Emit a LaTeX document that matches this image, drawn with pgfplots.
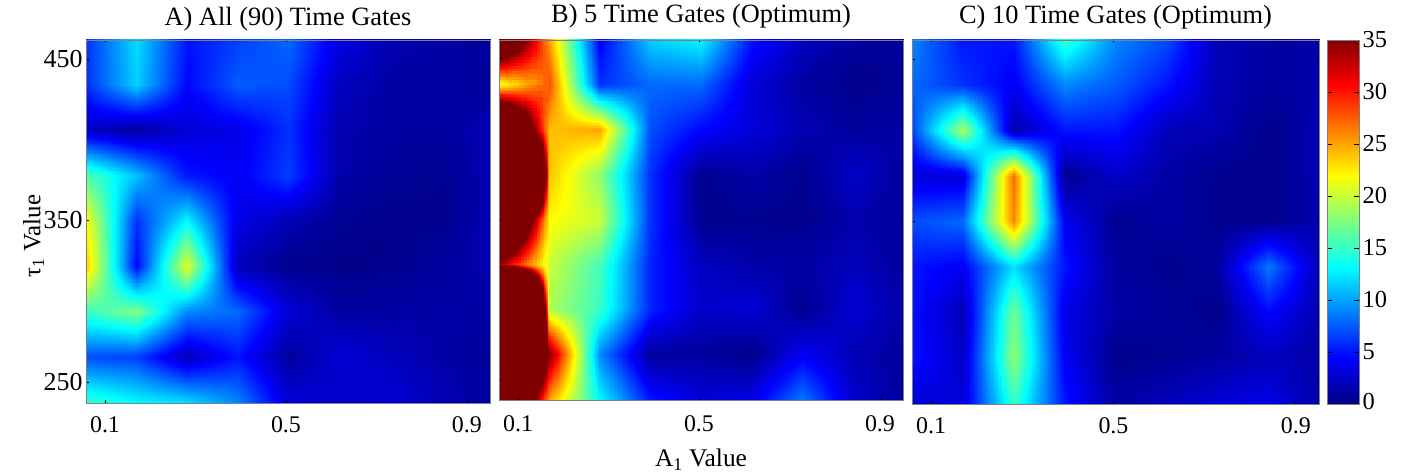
\documentclass[border=0pt]{standalone}
\usepackage{pgfplots}
\pgfplotsset{compat=1.18}
\usepgfplotslibrary{patchplots}
\usepackage{fontspec}
\setmainfont{Liberation Serif}
\pgfplotsset{
  colormap={jet35}{rgb255(0pt)=(0,0,128) rgb255(4.375pt)=(0,0,255) rgb255(13.125pt)=(0,255,255) rgb255(21.875pt)=(255,255,0) rgb255(30.625pt)=(255,0,0) rgb255(35pt)=(128,0,0)},
  colormap={jetx}{rgb255(0pt)=(0,0,128) rgb255(4.375pt)=(0,0,255) rgb255(13.125pt)=(0,255,255) rgb255(21.875pt)=(255,255,0) rgb255(30.625pt)=(255,0,0) rgb255(35pt)=(128,0,0) rgb255(250pt)=(128,0,0)},
  panel/.style={
    scale only axis, anchor=south west,
    xmin=0.058, xmax=0.951, ymin=236.9, ymax=461.7,
    xtick={0.1,0.5,0.9}, ytick={250,350,450},
    xticklabels={0.1,0.5,0.9},
    tick align=inside, major tick length=2.5bp,
    tick style={black, line width=0.6pt},
    axis line style={gray, line width=0.7pt},
    xticklabel style={font=\fontsize{24}{24}\selectfont, yshift=-10bp},
    yticklabel style={font=\fontsize{26}{26}\selectfont},
    /pgf/number format/assume math mode=true,
    title style={font=\fontsize{26.5}{28}\selectfont, inner sep=0pt},
    colormap name=jet35, point meta min=0, point meta max=35,
    axis on top,
  },
  hm/.style={surf, shader=interp, patch type=bilinear, mesh/cols=9, point meta=explicit},
}
\begin{document}
\begin{tikzpicture}[x=1bp,y=1bp]
\useasboundingbox (0,0) rectangle (1401,474);
% ---------- A
\begin{axis}[panel, at={(86bp,71bp)}, width=404bp, height=363bp,
  title={A) All (90) Time Gates}, title style={at={(0.5,1)},anchor=base,yshift=9bp},
  ylabel={τ\textsubscript{1} Value}, ylabel style={font=\fontsize{25}{25}\selectfont, at={(axis description cs:-0.1,0.46)}, yshift=-2bp}]
\addplot[hm] coordinates {
(0.058,236.9)[15] (0.170,236.9)[13] (0.281,236.9)[12] (0.393,236.9)[9] (0.505,236.9)[3] (0.616,236.9)[2.5] (0.728,236.9)[3] (0.840,236.9)[1.8] (0.951,236.9)[1]
(0.058,265.0)[7] (0.170,265.0)[6.5] (0.281,265.0)[2] (0.393,265.0)[5] (0.505,265.0)[1] (0.616,265.0)[3] (0.728,265.0)[2] (0.840,265.0)[1.3] (0.951,265.0)[0.8]
(0.058,293.1)[15] (0.170,293.1)[17.5] (0.281,293.1)[9] (0.393,293.1)[8] (0.505,293.1)[3] (0.616,293.1)[1.2] (0.728,293.1)[1.2] (0.840,293.1)[1.3] (0.951,293.1)[1.3]
(0.058,321.2)[24] (0.170,321.2)[4.5] (0.281,321.2)[21] (0.393,321.2)[2] (0.505,321.2)[0.5] (0.616,321.2)[0.3] (0.728,321.2)[0.4] (0.840,321.2)[1] (0.951,321.2)[1.8]
(0.058,349.3)[22] (0.170,349.3)[6] (0.281,349.3)[13] (0.393,349.3)[3.5] (0.505,349.3)[1.8] (0.616,349.3)[0.7] (0.728,349.3)[0.4] (0.840,349.3)[0.5] (0.951,349.3)[1.8]
(0.058,377.4)[16] (0.170,377.4)[11] (0.281,377.4)[5] (0.393,377.4)[4] (0.505,377.4)[6.5] (0.616,377.4)[1.5] (0.728,377.4)[0.8] (0.840,377.4)[0.6] (0.951,377.4)[1.8]
(0.058,405.5)[2.5] (0.170,405.5)[1] (0.281,405.5)[3] (0.393,405.5)[3.5] (0.505,405.5)[6] (0.616,405.5)[1.6] (0.728,405.5)[1.2] (0.840,405.5)[1.2] (0.951,405.5)[1.8]
(0.058,433.6)[6] (0.170,433.6)[11.5] (0.281,433.6)[4.5] (0.393,433.6)[7.5] (0.505,433.6)[7] (0.616,433.6)[2.2] (0.728,433.6)[1.2] (0.840,433.6)[1.2] (0.951,433.6)[0.8]
(0.058,461.7)[6] (0.170,461.7)[12] (0.281,461.7)[5] (0.393,461.7)[6.5] (0.505,461.7)[8] (0.616,461.7)[3.5] (0.728,461.7)[1.8] (0.840,461.7)[1.2] (0.951,461.7)[1]
};
\end{axis}
% ---------- B: the two leftmost columns exceed the scale, and are drawn on a wider meta range
\begin{axis}[panel, at={(499bp,74bp)}, width=404bp, height=360bp, yticklabels={},
  colormap name=jetx, point meta min=0, point meta max=250,
  xticklabel style={font=\fontsize{24}{24}\selectfont, yshift=-2bp},
  title={B) 5 Time Gates (Optimum)}, title style={at={(0.5,1)},anchor=base,yshift=12bp},
  xlabel={A\textsubscript{1} Value}, xlabel style={font=\fontsize{25.5}{26}\selectfont, at={(axis description cs:0.5,0)}, yshift=-49bp, inner sep=0pt}]
\addplot[surf, shader=interp, patch type=bilinear, mesh/cols=2, point meta=explicit] coordinates {
(0.058,236.9)[60] (0.170,236.9)[25]
(0.058,265.0)[100] (0.170,265.0)[35]
(0.058,293.1)[230] (0.170,293.1)[19]
(0.058,321.2)[34] (0.170,321.2)[20]
(0.058,349.3)[62] (0.170,349.3)[22]
(0.058,377.4)[200] (0.170,377.4)[24]
(0.058,405.5)[60] (0.170,405.5)[24]
(0.058,433.6)[21] (0.170,433.6)[28]
(0.058,461.7)[47] (0.170,461.7)[25]
};
\end{axis}
\begin{axis}[panel, at={(499bp,74bp)}, width=404bp, height=360bp, yticklabels={}, xticklabels={}]
\addplot[surf, shader=interp, patch type=bilinear, mesh/cols=8, point meta=explicit] coordinates {
(0.170,236.9)[25] (0.281,236.9)[13] (0.393,236.9)[5] (0.505,236.9)[3] (0.616,236.9)[3.5] (0.728,236.9)[8.5] (0.840,236.9)[2.5] (0.951,236.9)[1]
(0.170,265.0)[35] (0.281,265.0)[9] (0.393,265.0)[1] (0.505,265.0)[1] (0.616,265.0)[0.3] (0.728,265.0)[4] (0.840,265.0)[1.8] (0.951,265.0)[0.9]
(0.170,293.1)[19] (0.281,293.1)[15] (0.393,293.1)[5.5] (0.505,293.1)[2.5] (0.616,293.1)[3] (0.728,293.1)[0.5] (0.840,293.1)[3] (0.951,293.1)[1.3]
(0.170,321.2)[20] (0.281,321.2)[15.5] (0.393,321.2)[5.5] (0.505,321.2)[2.2] (0.616,321.2)[1.3] (0.728,321.2)[1.3] (0.840,321.2)[2] (0.951,321.2)[0.9]
(0.170,349.3)[22] (0.281,349.3)[20] (0.393,349.3)[6] (0.505,349.3)[0.5] (0.616,349.3)[0.5] (0.728,349.3)[0.4] (0.840,349.3)[1.6] (0.951,349.3)[0.8]
(0.170,377.4)[24] (0.281,377.4)[18] (0.393,377.4)[6] (0.505,377.4)[0.5] (0.616,377.4)[1.5] (0.728,377.4)[0.5] (0.840,377.4)[2.5] (0.951,377.4)[1]
(0.170,405.5)[24] (0.281,405.5)[25] (0.393,405.5)[7] (0.505,405.5)[4.5] (0.616,405.5)[3] (0.728,405.5)[1.8] (0.840,405.5)[1] (0.951,405.5)[1.2]
(0.170,433.6)[28] (0.281,433.6)[6] (0.393,433.6)[8] (0.505,433.6)[8] (0.616,433.6)[3] (0.728,433.6)[1.2] (0.840,433.6)[0.3] (0.951,433.6)[0.9]
(0.170,461.7)[25] (0.281,461.7)[4] (0.393,461.7)[11.5] (0.505,461.7)[13] (0.616,461.7)[5] (0.728,461.7)[2.2] (0.840,461.7)[1.2] (0.951,461.7)[1]
};
\end{axis}
% ---------- C
\begin{axis}[panel, at={(912bp,70bp)}, width=407bp, height=364bp, yticklabels={},
  title={C) 10 Time Gates (Optimum)}, title style={at={(0.5,1)},anchor=base,yshift=11bp}]
\addplot[hm] coordinates {
(0.058,236.9)[3] (0.170,236.9)[3] (0.281,236.9)[15] (0.393,236.9)[5] (0.505,236.9)[1.3] (0.616,236.9)[2] (0.728,236.9)[3] (0.840,236.9)[3.5] (0.951,236.9)[1.3]
(0.058,265.0)[5] (0.170,265.0)[2.5] (0.281,265.0)[18] (0.393,265.0)[4] (0.505,265.0)[0.4] (0.616,265.0)[0.7] (0.728,265.0)[1.2] (0.840,265.0)[2] (0.951,265.0)[1.3]
(0.058,293.1)[5] (0.170,293.1)[1.8] (0.281,293.1)[17] (0.393,293.1)[3.5] (0.505,293.1)[1.3] (0.616,293.1)[0.8] (0.728,293.1)[0.3] (0.840,293.1)[4.5] (0.951,293.1)[1.6]
(0.058,321.2)[5] (0.170,321.2)[4] (0.281,321.2)[12] (0.393,321.2)[5] (0.505,321.2)[1] (0.616,321.2)[0.4] (0.728,321.2)[1.1] (0.840,321.2)[8.5] (0.951,321.2)[1.8]
(0.058,349.3)[7] (0.170,349.3)[8] (0.281,349.3)[26] (0.393,349.3)[4] (0.505,349.3)[0.5] (0.616,349.3)[1.3] (0.728,349.3)[0.4] (0.840,349.3)[0.5] (0.951,349.3)[1.6]
(0.058,377.4)[3] (0.170,377.4)[3] (0.281,377.4)[27] (0.393,377.4)[0.5] (0.505,377.4)[2.5] (0.616,377.4)[1.3] (0.728,377.4)[0.5] (0.840,377.4)[0.3] (0.951,377.4)[1.8]
(0.058,405.5)[6.5] (0.170,405.5)[19] (0.281,405.5)[1.5] (0.393,405.5)[5] (0.505,405.5)[5] (0.616,405.5)[2] (0.728,405.5)[1.6] (0.840,405.5)[0.4] (0.951,405.5)[1.8]
(0.058,433.6)[8] (0.170,433.6)[6] (0.281,433.6)[4] (0.393,433.6)[9] (0.505,433.6)[7.5] (0.616,433.6)[5] (0.728,433.6)[1.8] (0.840,433.6)[1.1] (0.951,433.6)[1.6]
(0.058,461.7)[9] (0.170,461.7)[5] (0.281,461.7)[5] (0.393,461.7)[15] (0.505,461.7)[9] (0.616,461.7)[7] (0.728,461.7)[1.8] (0.840,461.7)[1.2] (0.951,461.7)[1.3]
};
\end{axis}
% ---------- colour bar
\begin{axis}[scale only axis, anchor=south west, at={(1327bp,70bp)}, width=32bp, height=364bp,
  xmin=0, xmax=1, ymin=0, ymax=35, xtick=\empty, ytick={0,5,...,35},
  yticklabels={\raisebox{6bp}{0},5,10,15,20,25,30,\raisebox{-4bp}{35}},
  yticklabel pos=right, tick align=inside, major tick length=5bp,
  tick style={black, line width=0.6pt}, axis line style={gray, line width=0.7pt},
  yticklabel style={font=\fontsize{24.5}{25}\selectfont},
  /pgf/number format/assume math mode=true,
  colormap name=jet35, point meta min=0, point meta max=35, axis on top]
\addplot[surf, shader=interp, mesh/cols=2, point meta=explicit] coordinates {
(0,0)[0] (1,0)[0]
(0,4.375)[4.375] (1,4.375)[4.375]
(0,13.125)[13.125] (1,13.125)[13.125]
(0,21.875)[21.875] (1,21.875)[21.875]
(0,30.625)[30.625] (1,30.625)[30.625]
(0,35)[35] (1,35)[35]
};
\end{axis}
\end{tikzpicture}
\end{document}
